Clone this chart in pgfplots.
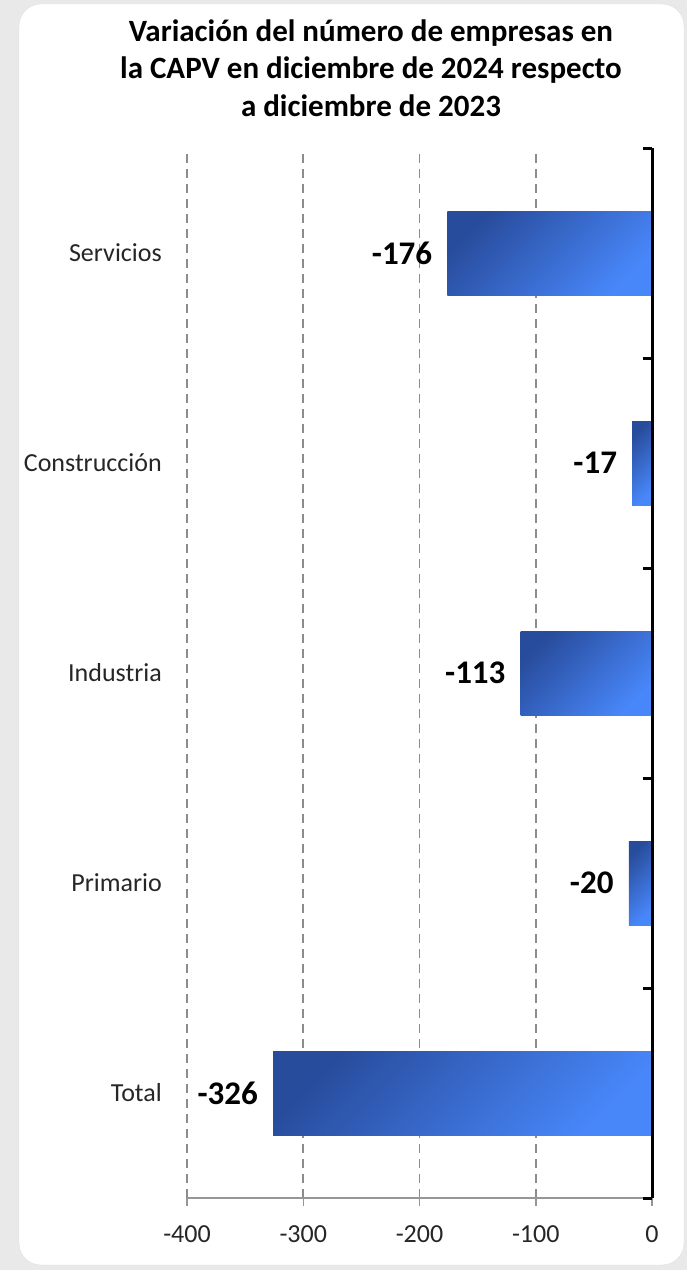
\documentclass[border=0pt]{standalone}
\usepackage{fontspec}
\setmainfont{Carlito}
\usepackage{pgfplots}
\pgfplotsset{compat=1.18}
\definecolor{bgray}{RGB}{233,233,233}
\definecolor{bardark}{RGB}{40,76,156}
\definecolor{barlight}{RGB}{72,135,250}
\definecolor{gridgray}{RGB}{140,140,140}
\definecolor{axgray}{RGB}{150,150,150}
\pgfplotsset{mybar/.style={draw=none, top color=bardark, bottom color=barlight, shading angle=45}}
\begin{document}
\begin{tikzpicture}
\fill[bgray] (0pt,0pt) rectangle (687pt,1270pt);
\fill[white, draw=black!12, rounded corners=22pt] (19pt,5pt) rectangle (684pt,1266pt);
\node[anchor=base, font=\bfseries\fontsize{31}{34}\selectfont, inner sep=0pt] at (371pt,1228.5pt) {Variación del número de empresas en};
\node[anchor=base, font=\bfseries\fontsize{31}{34}\selectfont, inner sep=0pt] at (371pt,1191pt) {la CAPV en diciembre de 2024 respecto};
\node[anchor=base, font=\bfseries\fontsize{31}{34}\selectfont, inner sep=0pt] at (371pt,1153.5pt) {a diciembre de 2023};
\begin{axis}[
  at={(187pt,72pt)}, anchor=south west,
  scale only axis, width=465pt, height=1050pt,
  xmin=-400, xmax=0, ymin=-0.5, ymax=4.5,
  xbar, bar width=84pt, bar shift=0pt,
  xtick={-400,-300,-200,-100,0},
  ytick={0,1,2,3,4},
  yticklabels={Total,Primario,Industria,Construcción,Servicios},
  major tick length=0pt,
  axis line style={draw=none},
  xmajorgrids,
  major grid style={gridgray, line width=1.8pt, dash pattern=on 9pt off 6pt},
  /pgf/number format/assume math mode=true,
  ticklabel style={font=\fontsize{26}{28}\selectfont, text=black!85},
  xticklabel style={anchor=north, inner sep=0pt, yshift=-27pt},
  yticklabel style={anchor=east, inner sep=0pt, xshift=-25pt},
  nodes near coords={\pgfmathprintnumber[assume math mode=true]{\pgfplotspointmeta}},
  nodes near coords style={font=\bfseries\fontsize{33}{36}\selectfont, anchor=east, inner sep=0pt, xshift=-15pt, text=black},
  clip=false,
]
\addplot[mybar] coordinates {(-326,0)};
\addplot[mybar] coordinates {(-20,1)};
\addplot[mybar] coordinates {(-113,2)};
\addplot[mybar] coordinates {(-17,3)};
\addplot[mybar] coordinates {(-176,4)};
\draw[axgray, line width=1.5pt] (axis cs:-400,-0.5) -- (axis cs:0,-0.5);
\draw[axgray, line width=1.5pt] (axis cs:-400,-0.5) -- ++(0pt,-8pt);
\draw[axgray, line width=1.5pt] (axis cs:-300,-0.5) -- ++(0pt,-8pt);
\draw[axgray, line width=1.5pt] (axis cs:-200,-0.5) -- ++(0pt,-8pt);
\draw[axgray, line width=1.5pt] (axis cs:-100,-0.5) -- ++(0pt,-8pt);
\draw[axgray, line width=1.5pt] (axis cs:0,-0.5) -- ++(0pt,-8pt);
\draw[black, line width=3pt] (axis cs:0,-0.5) -- (axis cs:0,4.5);
\draw[black, line width=3pt] (axis cs:0,-0.5) -- ++(-9pt,0pt);
\draw[black, line width=3pt] (axis cs:0,0.5) -- ++(-9pt,0pt);
\draw[black, line width=3pt] (axis cs:0,1.5) -- ++(-9pt,0pt);
\draw[black, line width=3pt] (axis cs:0,2.5) -- ++(-9pt,0pt);
\draw[black, line width=3pt] (axis cs:0,3.5) -- ++(-9pt,0pt);
\draw[black, line width=3pt] (axis cs:0,4.5) -- ++(-9pt,0pt);
\end{axis}
\end{tikzpicture}
\end{document}
